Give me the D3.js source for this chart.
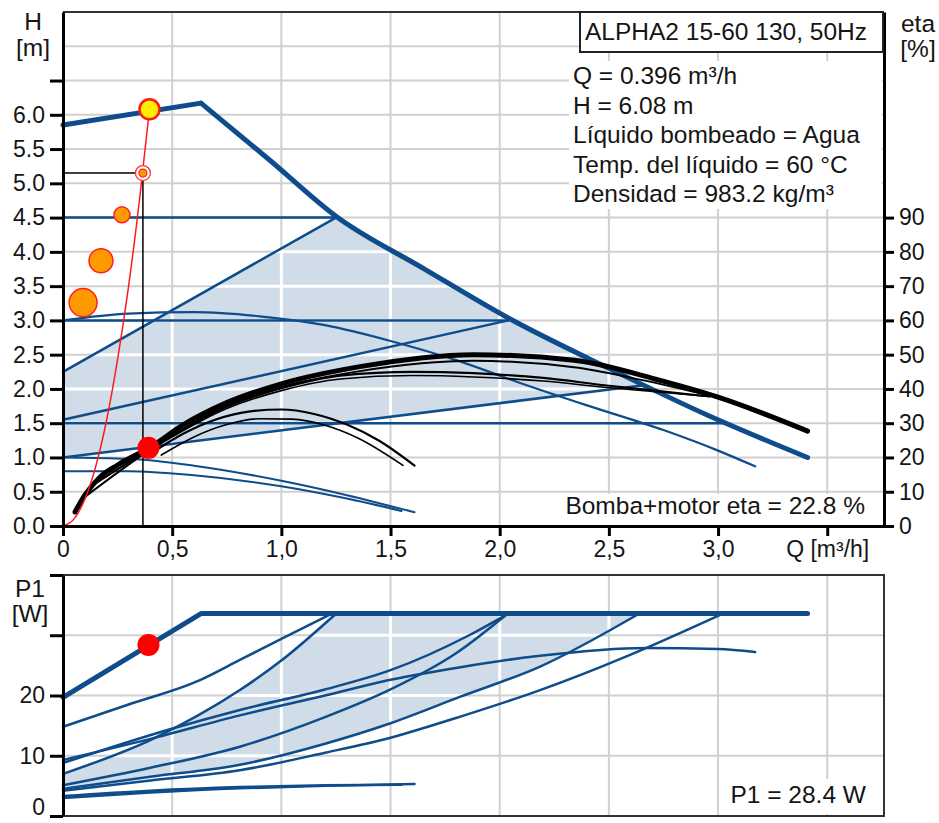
<!DOCTYPE html>
<html>
<head>
<meta charset="utf-8">
<script src="https://cdn.jsdelivr.net/npm/d3@7"></script>
<style>
  body { margin: 0; background: #fff; }
  svg { display: block; font-family: "Liberation Sans", Arial, sans-serif; }
</style>
</head>
<body>
<script>
// ---- values ----
// flow ticks
const qTicks = [0, 0.5, 1.0, 1.5, 2.0, 2.5, 3.0, 3.5];
const hTicks = [0, 0.5, 1, 1.5, 2, 2.5, 3, 3.5, 4, 4.5, 5, 5.5, 6, 6.5];
const etaTicks = [0, 10, 20, 30, 40, 50, 60, 70, 80, 90];
const pTicks = [0, 10, 20, 30, 40];

// head curves, Q [m3/h] / H [m]
const maxQ = [0, 0.632, 0.95, 1.25, 1.65, 2.048, 2.5, 2.95, 3.41];
const maxH = [5.85, 6.17, 5.33, 4.52, 3.76, 3.02, 2.3, 1.62, 1.0];
const cp3Q = [0, 1.25], cp3H = [4.5, 4.5];
const pp3Q = [0, 1.25], pp3H = [2.25, 4.5];
const cp2Q = [0, 2.04], cp2H = [3.0, 3.0];
const pp2Q = [0, 2.04], pp2H = [1.55, 3.0];
const cp1Q = [0, 3.03], cp1H = [1.5, 1.5];
const pp1Q = [0, 2.65], pp1H = [1.0, 2.05];
const spd3Q = [0, 0.3, 0.6, 0.9, 1.2, 1.5, 1.8, 2.1, 2.4, 2.75, 3.0, 3.17];
const spd3H = [3.0, 3.1, 3.12, 3.06, 2.93, 2.7, 2.42, 2.08, 1.76, 1.4, 1.1, 0.87];
const spd1aQ = [0, 0.3, 0.6, 1.0, 1.3, 1.61];
const spd1aH = [1.0, 0.98, 0.88, 0.66, 0.45, 0.2];
const spd1bQ = [0, 0.3, 0.6, 1.0, 1.3, 1.55];
const spd1bH = [0.8, 0.8, 0.74, 0.58, 0.4, 0.22];

// system curve
const sysQ = [0, 0.05, 0.1, 0.15, 0.2, 0.25, 0.3, 0.35, 0.396];
const sysH = [0, 0.1, 0.39, 0.87, 1.55, 2.43, 3.49, 4.75, 6.08];

// efficiency curves, eta [%]
const etaMainQ = [0.055, 0.1, 0.17, 0.25, 0.4, 0.55, 0.75, 1.0, 1.36, 1.88, 2.34, 2.735, 3.0, 3.41];
const etaMain = [4.1, 9, 14.3, 17.8, 23, 29.5, 36, 41.5, 46.5, 50, 48.4, 42.5, 37.6, 27.7];
const etaBQ = [0.1, 0.4, 0.75, 1.0, 1.36, 1.88, 2.34, 2.6, 2.95];
const etaB = [8.5, 22.3, 35.2, 40.6, 45.2, 48.2, 46.3, 43.3, 38.2];
const etaCQ = [0.15, 0.4, 0.75, 1.0, 1.27, 1.6, 1.88, 2.2, 2.49, 2.7, 2.96];
const etaC = [12.5, 22.5, 34.8, 40.2, 43.9, 45, 44.6, 43.2, 41, 39.6, 37.8];
const etaD = [12.5, 22.3, 34.3, 39.5, 42.9, 43.9, 43.5, 42.3, 40.4, 39.3, 37.8];
const etaEQ = [0.4, 0.55, 0.7, 0.85, 1.0, 1.15, 1.3, 1.45, 1.61];
const etaE = [21.0, 26.9, 31.1, 33.4, 34.0, 32.7, 29.6, 24.8, 17.6];
const etaFQ = [0.45, 0.6, 0.75, 0.9, 1.05, 1.2, 1.35, 1.557];
const etaF = [20.7, 26.0, 29.6, 31.3, 31.2, 29.4, 25.7, 17.7];

// power curves, P1 [W]
const pMaxQ = [0, 0.632, 3.41];
const pMax = [19.7, 33.6, 33.6];
const pCp3Q = [0, 0.3, 0.63, 0.81, 1.0, 1.22];
const pCp3 = [14.8, 18.5, 22.6, 25.9, 29.4, 33.4];
const pPp3Q = [0, 0.4, 0.81, 1.0, 1.245];
const pPp3 = [7.0, 12.6, 20.9, 25.8, 33.4];
const pCp2Q = [0, 0.49, 0.81, 1.2, 1.5, 1.86, 2.03];
const pCp2 = [8.8, 14.4, 17.6, 21.0, 24.2, 30.0, 33.4];
const pPp2Q = [0, 0.4, 0.81, 1.2, 1.5, 1.8, 2.03];
const pPp2 = [5.1, 8.0, 11.5, 16.4, 21.0, 27.0, 33.4];
const pSpd3Q = [0, 0.4, 0.81, 1.2, 1.5, 1.82, 2.185, 2.67, 3.0, 3.17];
const pSpd3 = [9.3, 12.8, 16.7, 20.0, 22.6, 24.7, 26.6, 27.9, 27.7, 27.2];
const pPp1Q = [0, 0.4, 0.81, 1.2, 1.5, 1.82, 2.185, 2.63];
const pPp1 = [4.5, 6.5, 8.5, 12.0, 15.4, 19.8, 24.8, 33.4];
const pCp1Q = [0, 0.4, 0.81, 1.2, 1.5, 1.82, 2.185, 2.6, 3.01];
const pCp1 = [4.2, 5.9, 7.6, 10.5, 13.0, 16.5, 20.9, 26.8, 33.4];
const pSpd1aQ = [0, 0.4, 0.81, 1.2, 1.61];
const pSpd1a = [3.0, 3.9, 4.6, 5.0, 5.3];
const pSpd1bQ = [0, 0.4, 0.81, 1.2, 1.55];
const pSpd1b = [3.3, 4.2, 4.8, 5.1, 5.2];

// operating point and markers
const dutyQ = 0.396, dutyH = 6.08, dutyEta = 22.8, dutyP = 28.4;
const guideQ = 0.366, guideH = 5.15;
const bubbleQ = [0.092, 0.174, 0.27];
const bubbleH = [3.26, 3.87, 4.54];
const bubbleSize = [196, 144, 64];

const infoLines = [
  "Q = 0.396 m³/h",
  "H = 6.08 m",
  "Líquido bombeado = Agua",
  "Temp. del líquido = 60 °C",
  "Densidad = 983.2 kg/m³",
];

// ---- drawing ----
const svg = d3.select("body").append("svg")
  .attr("width", 939)
  .attr("height", 823);

const x = d3.scaleLinear().domain([0, 3.76]).range([63, 884]);
const yH = d3.scaleLinear().domain([0, 7.5]).range([526, 12]);
const yEta = d3.scaleLinear().domain([0, 150]).range([526, 12]);
const yP = d3.scaleLinear().domain([0, 40]).range([816, 575]);
const rBubble = d3.scaleSqrt().domain([0, 196]).range([0, 14]);

const blue = "#0e4c8b";
const shadeCol = "#d0dce8";
const gridCol = "#d0d0d0";
const textCol = "#151515";

const pts = (qs, vs) => qs.map((q, i) => [q, vs[i]]);
const lineOn = (yScale, curve) => d3.line()
  .x(d => x(d[0]))
  .y(d => yScale(d[1]))
  .curve(curve || d3.curveLinear);

const qGrid = qTicks.filter(d => d > 0);

function drawGrid(g, yScale, yVals, color, width) {
  const [y0, y1] = yScale.range();
  g.selectAll(null).data(qGrid).join("line")
    .attr("x1", d => x(d)).attr("x2", d => x(d))
    .attr("y1", y0).attr("y2", y1)
    .attr("stroke", color).attr("stroke-width", width);
  g.selectAll(null).data(yVals).join("line")
    .attr("x1", x.range()[0]).attr("x2", x.range()[1])
    .attr("y1", d => yScale(d)).attr("y2", d => yScale(d))
    .attr("stroke", color).attr("stroke-width", width);
}

function drawCurve(g, data, yScale, color, width, curve) {
  g.append("path")
    .datum(data)
    .attr("d", lineOn(yScale, curve))
    .attr("fill", "none")
    .attr("stroke", color)
    .attr("stroke-width", width)
    .attr("stroke-linejoin", "round")
    .attr("stroke-linecap", "round");
}

function styleAxis(g) {
  g.attr("font-size", 23).attr("font-family", null);
  g.select(".domain").attr("stroke", "#000").attr("stroke-width", 3);
  g.selectAll(".tick line").attr("stroke", "#000").attr("stroke-width", 3);
  g.selectAll(".tick text").attr("fill", textCol);
}

function label(txt, px, py, anchor, size) {
  svg.append("text")
    .attr("x", px).attr("y", py)
    .attr("text-anchor", anchor || "middle")
    .attr("font-size", size || 24.5)
    .attr("fill", textCol)
    .text(txt);
}

const defs = svg.append("defs");

// ===== top panel: head / efficiency =====
const headG = svg.append("g");
const hGrid = hTicks.filter(d => d > 0).concat([7]);
drawGrid(headG, yH, hGrid, gridCol, 2);

const shadeTop = pts(pp3Q, pp3H)
  .concat(pts(maxQ, maxH).filter(d => d[0] > 1.25 && d[0] < 2.65))
  .concat(pts(pp1Q, pp1H).reverse());
const shadeTopPath = lineOn(yH)(shadeTop) + "Z";
headG.append("path").attr("d", shadeTopPath).attr("fill", shadeCol);
defs.append("clipPath").attr("id", "clipTop").append("path").attr("d", shadeTopPath);
drawGrid(headG.append("g").attr("clip-path", "url(#clipTop)"), yH, hGrid, "#fff", 3);

// white text backgrounds
headG.append("rect").attr("x", 569).attr("y", 61).attr("width", 313).attr("height", 148).attr("fill", "#fff");
headG.append("rect").attr("x", 557).attr("y", 494).attr("width", 311).attr("height", 31).attr("fill", "#fff");

// blue head curves
[[cp3Q, cp3H], [pp3Q, pp3H], [cp2Q, cp2H], [pp2Q, pp2H], [cp1Q, cp1H], [pp1Q, pp1H]]
  .forEach(([q, h]) => drawCurve(headG, pts(q, h), yH, blue, 2.5));
drawCurve(headG, pts(spd3Q, spd3H), yH, blue, 2.2, d3.curveMonotoneX);
drawCurve(headG, pts(spd1aQ, spd1aH), yH, blue, 2, d3.curveMonotoneX);
drawCurve(headG, pts(spd1bQ, spd1bH), yH, blue, 2, d3.curveMonotoneX);
// max curve: straight rise to the corner, smooth fall after it
const maxPts = pts(maxQ, maxH);
drawCurve(headG, maxPts.slice(0, 2), yH, blue, 5);
drawCurve(headG, maxPts.slice(1), yH, blue, 5, d3.curveMonotoneX);

// black efficiency curves
drawCurve(headG, pts(etaEQ, etaE), yEta, "#000", 2.2, d3.curveMonotoneX);
drawCurve(headG, pts(etaFQ, etaF), yEta, "#000", 1.6, d3.curveMonotoneX);
drawCurve(headG, pts(etaCQ, etaD), yEta, "#000", 1.6, d3.curveMonotoneX);
drawCurve(headG, pts(etaCQ, etaC), yEta, "#000", 2.2, d3.curveMonotoneX);
drawCurve(headG, pts(etaBQ, etaB), yEta, "#000", 2, d3.curveMonotoneX);
drawCurve(headG, pts(etaMainQ, etaMain), yEta, "#000", 5, d3.curveMonotoneX);

// system curve and duty point guides
drawCurve(headG, pts(sysQ, sysH), yH, "#ff1a1a", 1.5, d3.curveMonotoneX);
headG.append("path")
  .attr("d", `M${x(0)},${yH(guideH)}H${x(guideQ)}V${yH(0)}`)
  .attr("fill", "none").attr("stroke", "#000").attr("stroke-width", 1.5);

headG.selectAll(null).data(pts(bubbleQ, bubbleH).map((d, i) => [d[0], d[1], bubbleSize[i]]))
  .join("circle")
  .attr("cx", d => x(d[0])).attr("cy", d => yH(d[1])).attr("r", d => rBubble(d[2]))
  .attr("fill", "#ff9900").attr("stroke", "#ff2020").attr("stroke-width", 1.5);

headG.append("circle").attr("cx", x(guideQ)).attr("cy", yH(guideH)).attr("r", 7.5)
  .attr("fill", "#fff").attr("stroke", "#ff3030").attr("stroke-width", 1.3);
headG.append("circle").attr("cx", x(guideQ)).attr("cy", yH(guideH)).attr("r", 4)
  .attr("fill", "#ff9900").attr("stroke", "#ff2020").attr("stroke-width", 1.2);
headG.append("circle").attr("cx", x(dutyQ)).attr("cy", yH(dutyH)).attr("r", 10)
  .attr("fill", "#ffee00").attr("stroke", "#ff1a1a").attr("stroke-width", 2.5);
headG.append("circle").attr("cx", x(dutyQ) - 1).attr("cy", yEta(dutyEta)).attr("r", 11)
  .attr("fill", "#ff0000");

// frame and axes
headG.append("line").attr("x1", x(0)).attr("x2", x(3.76)).attr("y1", 12).attr("y2", 12)
  .attr("stroke", "#333").attr("stroke-width", 2);

headG.append("g").attr("transform", "translate(63,0)")
  .call(d3.axisLeft(yH).tickValues(hTicks).tickSize(13).tickSizeOuter(0).tickPadding(5)
    .tickFormat(d => d <= 6 ? d3.format(".1f")(d) : ""))
  .call(styleAxis);

headG.append("g").attr("transform", "translate(0,526)")
  .call(d3.axisBottom(x).tickValues(qTicks).tickSize(10).tickSizeOuter(0).tickPadding(5)
    .tickFormat(d => d === 0 ? "0" : d === 3.5 ? "Q [m³/h]" : d3.format(".1f")(d).replace(".", ",")))
  .call(styleAxis);

headG.append("g").attr("transform", "translate(884,0)")
  .call(d3.axisRight(yEta).tickValues(etaTicks).tickSize(10).tickSizeOuter(0).tickPadding(5))
  .call(styleAxis);

// title box and texts
headG.append("rect").attr("x", 580).attr("y", 12).attr("width", 303).attr("height", 40)
  .attr("fill", "#fff").attr("stroke", "#222").attr("stroke-width", 2);
label("ALPHA2 15-60 130, 50Hz", 726, 40);
infoLines.forEach((t, i) => label(t, 573, 84 + i * 29.6, "start"));
label("Bomba+motor eta = 22.8 %", 865, 514, "end");
label("H", 33, 30);
label("[m]", 33, 56);
label("eta", 918, 32);
label("[%]", 918, 57);

// ===== bottom panel: power =====
const powerG = svg.append("g");
const pGrid = [10, 20, 30];
drawGrid(powerG, yP, pGrid, gridCol, 2);

const shadeBot = pts(pPp3Q, pPp3).concat(pts(pPp1Q, pPp1).reverse());
const shadeBotPath = lineOn(yP)(shadeBot) + "Z";
powerG.append("path").attr("d", shadeBotPath).attr("fill", shadeCol);
defs.append("clipPath").attr("id", "clipBot").append("path").attr("d", shadeBotPath);
drawGrid(powerG.append("g").attr("clip-path", "url(#clipBot)"), yP, pGrid, "#fff", 3);

powerG.append("rect").attr("x", 722).attr("y", 779).attr("width", 150).attr("height", 35).attr("fill", "#fff");

[[pCp3Q, pCp3], [pPp3Q, pPp3], [pCp2Q, pCp2], [pPp2Q, pPp2], [pSpd3Q, pSpd3],
 [pPp1Q, pPp1], [pCp1Q, pCp1], [pSpd1aQ, pSpd1a], [pSpd1bQ, pSpd1b]]
  .forEach(([q, p]) => drawCurve(powerG, pts(q, p), yP, blue, 2.5, d3.curveMonotoneX));
drawCurve(powerG, pts(pMaxQ, pMax), yP, blue, 5);

powerG.append("circle").attr("cx", x(dutyQ) - 1).attr("cy", yP(dutyP)).attr("r", 11)
  .attr("fill", "#ff0000");

powerG.append("rect").attr("x", x(0)).attr("y", yP(40)).attr("width", x(3.76) - x(0)).attr("height", yP(0) - yP(40))
  .attr("fill", "none").attr("stroke", "#333").attr("stroke-width", 2);

const pAxis = powerG.append("g").attr("transform", "translate(63,0)")
  .call(d3.axisLeft(yP).tickValues(pTicks).tickSize(13).tickSizeOuter(0).tickPadding(5)
    .tickFormat(d => d <= 20 ? d : ""))
  .call(styleAxis);
// keep the "0" inside the picture
pAxis.selectAll(".tick text").filter(d => d === 0).attr("dy", "-0.05em");

label("P1 = 28.4 W", 866, 803, "end");
label("P1", 30, 597);
label("[W]", 30, 622);
</script>
</body>
</html>
